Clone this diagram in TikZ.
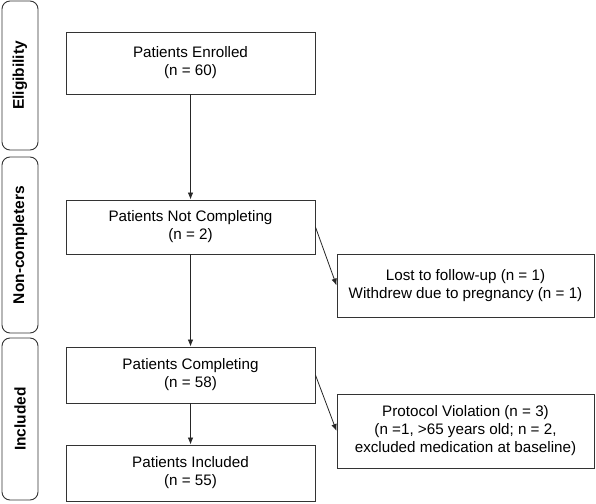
\documentclass[tikz,border=0pt]{standalone}
\usepackage{fontspec}
\setmainfont{Liberation Sans}
\usetikzlibrary{arrows.meta}

\tikzset{
  box/.style={draw=black!80,line width=0.9pt,inner sep=0pt,align=center,
    font=\fontsize{15.2}{18}\selectfont},
  sidebox/.style={draw=black!80,line width=0.9pt,rounded corners=8pt,inner sep=0pt,
    minimum width=36pt},
  sidetext/.style={rotate=90,font=\fontsize{15.5}{18}\selectfont\bfseries},
  arr/.style={-{Latex[length=7pt,width=5.5pt]},line width=0.8pt,black!85}
}

\begin{document}
\begin{tikzpicture}[x=1pt,y=-1pt]
        \useasboundingbox (0,0) rectangle (596,503);

        % side labels
        \node[sidebox,minimum height=149pt](elig) at (20,75.5){};
        \node[sidetext] at (elig.center){Eligibility};
        \node[sidebox,minimum height=176pt](noncomp) at (20,245){};
        \node[sidetext] at (noncomp.center){Non-completers};
        \node[sidebox,minimum height=162pt](incl) at (20,419){};
        \node[sidetext] at (incl.center){Included};

        % main boxes
        \node[box,minimum width=249pt,minimum height=62pt](enrolled) at (190.5,63){Patients Enrolled\\(n = 60)};
        \node[box,minimum width=249pt,minimum height=54pt](notcomp) at (190.5,227){Patients Not Completing\\(n = 2)};
        \node[box,minimum width=249pt,minimum height=56pt](comp) at (190.5,375){Patients Completing\\(n = 58)};
        \node[box,minimum width=249pt,minimum height=56pt](included) at (190.5,473){Patients Included\\(n = 55)};

        \node[box,minimum width=257pt,minimum height=63pt](lost) at (465.5,285.5){Lost to follow-up (n = 1)\\Withdrew due to pregnancy (n = 1)};
        \node[box,minimum width=257pt,minimum height=74pt](protocol) at (465.5,431){Protocol Violation (n = 3)\\(n =1, >65 years old; n = 2,\\excluded medication at baseline)};

        \draw[arr](enrolled)--(notcomp);
        \draw[arr](notcomp)--(comp);
        \draw[arr](comp)--(included);
        \draw[arr](notcomp.east)--(lost.west);
        \draw[arr](comp.east)--(protocol.west);
    \end{tikzpicture}
\end{document}
